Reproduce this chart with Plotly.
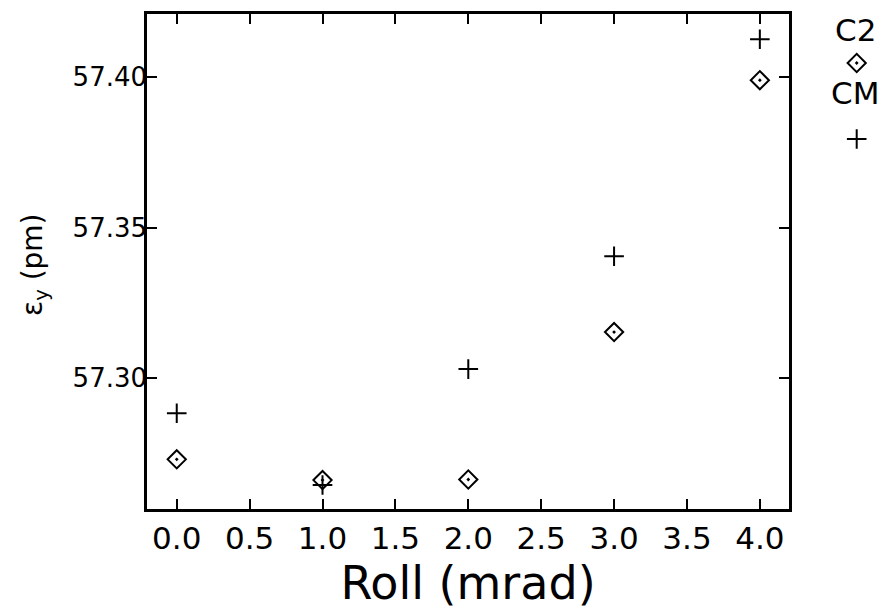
import plotly.graph_objects as go

# ---- data ----
roll_mrad = [0.0, 1.0, 2.0, 3.0, 4.0]
eps_c2 = [57.2730, 57.2661, 57.2663, 57.3153, 57.3990]
eps_cm = [57.2883, 57.2645, 57.3030, 57.3405, 57.4126]
series_names = ["C2", "CM"]
x_ticks = [0.0, 0.5, 1.0, 1.5, 2.0, 2.5, 3.0, 3.5, 4.0]
y_ticks = [57.30, 57.35, 57.40]

W, H = 891, 610
L, R, T, B = 147, 0, 14, 101
plot_w = W - L - R
main_frac = 642 / plot_w

FONT = "DejaVu Sans"
diamond = dict(symbol="diamond-open-dot", size=14, color="black", line=dict(width=2, color="black"))
cross = dict(symbol="cross-thin-open", size=14, color="black", line=dict(width=2, color="black"))

fig = go.Figure()
fig.add_trace(go.Scatter(x=roll_mrad, y=eps_c2, mode="markers", marker=diamond, name=series_names[0], showlegend=False))
fig.add_trace(go.Scatter(x=roll_mrad, y=eps_cm, mode="markers", marker=cross, name=series_names[1], showlegend=False))

# legend drawn in a side panel (pixel-like coordinates)
fig.add_trace(go.Scatter(x=[856.7], y=[63], mode="markers", marker=diamond, xaxis="x2", yaxis="y2",
                         showlegend=False, hoverinfo="skip"))
fig.add_trace(go.Scatter(x=[856.7], y=[139], mode="markers", marker=cross, xaxis="x2", yaxis="y2",
                         showlegend=False, hoverinfo="skip"))

axis_common = dict(showline=True, linewidth=2.5, linecolor="black", mirror="ticks",
                   ticks="inside", ticklen=10, tickwidth=2, tickcolor="black",
                   showgrid=False, zeroline=False)

fig.update_layout(
    width=W, height=H,
    margin=dict(l=L, r=R, t=T, b=B, pad=0),
    paper_bgcolor="white", plot_bgcolor="white",
    xaxis=dict(domain=[0, main_frac], range=[-0.204, 4.2], tickvals=x_ticks,
               ticktext=[f"{v:.1f}" for v in x_ticks],
               tickfont=dict(family=FONT, size=31, color="black"),
               title=dict(text="Roll (mrad)", font=dict(family=FONT, size=46, color="black"), standoff=13),
               **axis_common),
    yaxis=dict(range=[57.2565, 57.421], tickvals=y_ticks,
               ticktext=[f"{v:.2f}" for v in y_ticks],
               tickfont=dict(family=FONT, size=26, color="black"),
               ticklabelstandoff=-8,
               **axis_common),
    xaxis2=dict(domain=[main_frac, 1], range=[789, 891], visible=False, anchor="y2"),
    yaxis2=dict(domain=[0, 1], range=[509, 14], visible=False, anchor="x2"),
    annotations=[
        dict(text="ε<sub>y</sub> (pm)", xref="paper", yref="paper",
             x=(34 - L) / plot_w, y=(H - B - 265) / (H - T - B), xanchor="center", yanchor="middle",
             textangle=-90, showarrow=False, font=dict(family=FONT, size=28, color="black")),
        dict(text=series_names[0], xref="x2", yref="y2", x=855, y=30, xanchor="center", yanchor="middle",
             showarrow=False, font=dict(family=FONT, size=31, color="black")),
        dict(text=series_names[1], xref="x2", yref="y2", x=855, y=93, xanchor="center", yanchor="middle",
             showarrow=False, font=dict(family=FONT, size=31, color="black")),
    ],
)

fig.write_html("out.html")
